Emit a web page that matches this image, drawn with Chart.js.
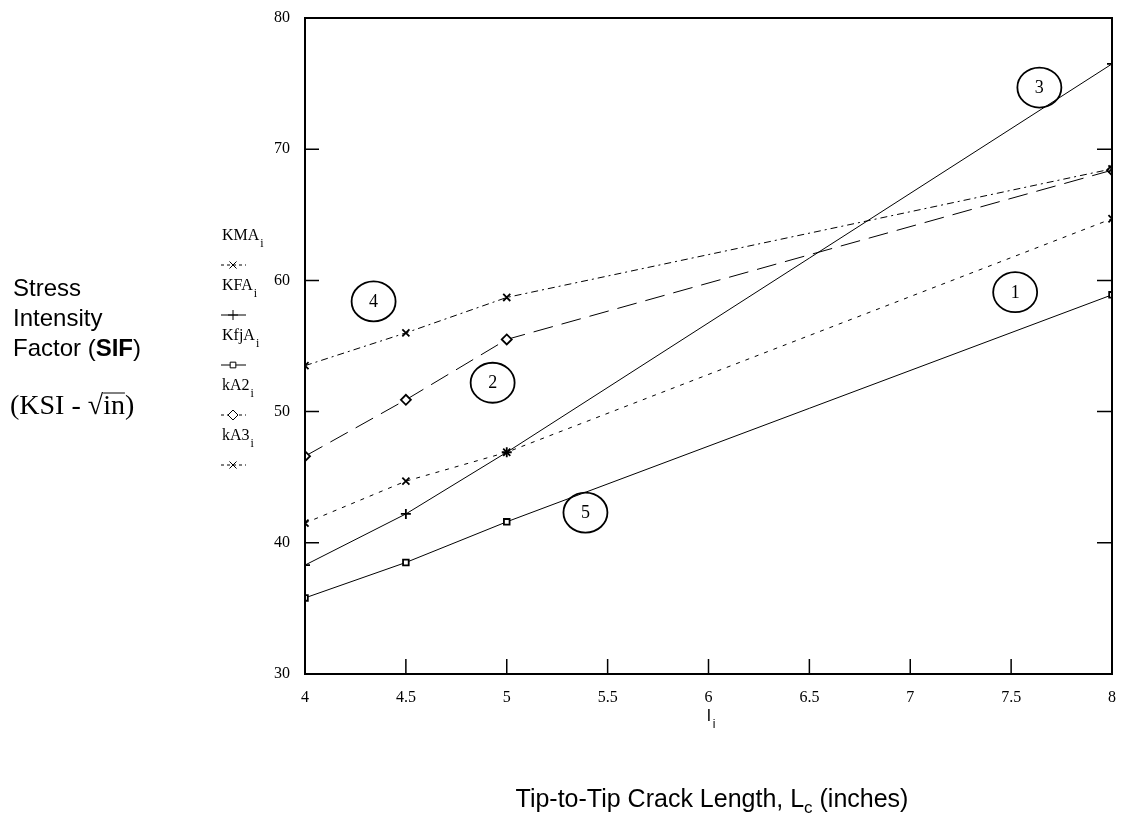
<!DOCTYPE html>
<html>
<head>
<meta charset="utf-8">
<script src="https://cdn.jsdelivr.net/npm/chart.js@4/dist/chart.umd.min.js"></script>
<style>
  html, body { margin: 0; padding: 0; background: #fff; }
  #wrap { width: 1122px; height: 821px; position: relative; }
</style>
</head>
<body>
<div id="wrap"><canvas id="sifChart" width="1122" height="821"></canvas></div>
<script>
// crack lengths l_i (inches)
const lengths = [4, 4.5, 5, 8];

// stress intensity factors (KSI-sqrt(in))
const KMA = [53.5, 56.0, 58.7, 68.5];
const KFA = [38.3, 42.2, 46.9, 76.5];
const KfjA = [35.8, 38.5, 41.6, 58.9];
const kA2 = [46.6, 50.9, 55.5, 68.4];
const kA3 = [41.5, 44.7, 46.9, 64.7];

const xTicks = [4, 4.5, 5, 5.5, 6, 6.5, 7, 7.5, 8];
const yTicks = [30, 40, 50, 60, 70, 80];

// circled curve numbers, in data units
const curveTags = ['1', '2', '3', '4', '5'];
const curveTagX = [7.52, 4.93, 7.64, 4.34, 5.39];
const curveTagY = [59.1, 52.2, 74.7, 58.4, 42.3];

function pts(ys) {
    return lengths.map((x, i) => ({ x: x, y: ys[i] }));
}

const series = [
    { label: 'KMA', data: KMA, dash: [7, 4, 2, 4], style: 'crossRot', r: 5 },
    { label: 'KFA', data: KFA, dash: [], style: 'cross', r: 5 },
    { label: 'KfjA', data: KfjA, dash: [], style: 'rect', r: 4 },
    { label: 'kA2', data: kA2, dash: [20, 9], style: 'rectRot', r: 5 },
    { label: 'kA3', data: kA3, dash: [4, 6], style: 'crossRot', r: 5 }
];

// frame, inward ticks, labels, legend and circled numbers
const decorations = {
    id: 'decorations',
    afterDraw(chart) {
        const ctx = chart.ctx;
        const a = chart.chartArea;
        const xs = chart.scales.x, ys = chart.scales.y;
        ctx.save();
        ctx.strokeStyle = '#000';
        ctx.fillStyle = '#000';

        // frame
        ctx.lineWidth = 2;
        ctx.setLineDash([]);
        ctx.strokeRect(a.left, a.top, a.right - a.left, a.bottom - a.top);

        // inward ticks
        ctx.lineWidth = 1.5;
        ctx.beginPath();
        yTicks.forEach(v => {
            if (v === 30 || v === 80) return;
            const py = ys.getPixelForValue(v);
            ctx.moveTo(a.left, py); ctx.lineTo(a.left + 14, py);
            ctx.moveTo(a.right, py); ctx.lineTo(a.right - 15, py);
        });
        xTicks.forEach(v => {
            if (v === 4 || v === 8) return;
            const px = xs.getPixelForValue(v);
            ctx.moveTo(px, a.bottom); ctx.lineTo(px, a.bottom - 15);
        });
        ctx.stroke();

        // circled curve numbers
        ctx.lineWidth = 1.8;
        ctx.font = '18px "Liberation Serif"';
        ctx.textAlign = 'center';
        ctx.textBaseline = 'middle';
        curveTags.forEach((t, i) => {
            const px = xs.getPixelForValue(curveTagX[i]);
            const py = ys.getPixelForValue(curveTagY[i]);
            ctx.beginPath();
            ctx.ellipse(px, py, 22, 20, 0, 0, Math.PI * 2);
            ctx.stroke();
            ctx.fillText(t, px, py + 1);
        });

        // y axis title
        ctx.textAlign = 'left';
        ctx.textBaseline = 'alphabetic';
        ctx.font = '24px "Liberation Sans"';
        ctx.fillText('Stress', 13, 296);
        ctx.fillText('Intensity', 13, 326);
        ctx.fillText('Factor (', 13, 356);
        let w = ctx.measureText('Factor (').width;
        ctx.font = 'bold 24px "Liberation Sans"';
        ctx.fillText('SIF', 13 + w, 356);
        w += ctx.measureText('SIF').width;
        ctx.font = '24px "Liberation Sans"';
        ctx.fillText(')', 13 + w, 356);

        // units
        ctx.font = '28px "Liberation Serif"';
        let ux = 10;
        ctx.fillText('(KSI - ', ux, 414);
        ux += ctx.measureText('(KSI - ').width;
        ctx.fillText('\u221A', ux, 414);
        ux += ctx.measureText('\u221A').width;
        const inW = ctx.measureText('in').width;
        ctx.lineWidth = 1;
        ctx.beginPath();
        ctx.moveTo(ux, 393); ctx.lineTo(ux + inW, 393);
        ctx.stroke();
        ctx.fillText('in)', ux, 414);

        // stacked legend
        series.forEach((s, i) => {
            const ly = 240 + i * 50;
            ctx.fillStyle = '#000';
            ctx.font = '16px "Liberation Serif"';
            ctx.fillText(s.label, 222, ly);
            const lw = ctx.measureText(s.label).width;
            ctx.font = '12px "Liberation Serif"';
            ctx.fillText('i', 222 + lw + 1, ly + 7);
            const my = ly + 25;
            ctx.lineWidth = 1;
            ctx.setLineDash(s.dash.length ? [3, 3] : []);
            ctx.beginPath();
            ctx.moveTo(221, my); ctx.lineTo(246, my);
            ctx.stroke();
            ctx.setLineDash([]);
            ctx.fillStyle = '#fff';
            Chart.helpers.drawPoint(ctx, {
                pointStyle: s.style, radius: s.r, borderWidth: 1.8, rotation: 0
            }, 233, my);
        });
        ctx.fillStyle = '#000';

        // x axis titles
        ctx.textAlign = 'center';
        ctx.font = '17px "Liberation Sans"';
        ctx.fillText('l', 709, 721);
        ctx.font = '12px "Liberation Sans"';
        ctx.fillText('i', 714, 728);

        ctx.textAlign = 'left';
        const t1 = 'Tip-to-Tip Crack Length, L';
        const t2 = ' (inches)';
        ctx.font = '17px "Liberation Sans"';
        const cw = ctx.measureText('c').width;
        ctx.font = '25px "Liberation Sans"';
        const total = ctx.measureText(t1).width + cw + ctx.measureText(t2).width;
        let tx = 712 - total / 2;
        ctx.fillText(t1, tx, 807);
        tx += ctx.measureText(t1).width;
        ctx.font = '17px "Liberation Sans"';
        ctx.fillText('c', tx, 813);
        tx += cw;
        ctx.font = '25px "Liberation Sans"';
        ctx.fillText(t2, tx, 807);

        ctx.restore();
    }
};

document.addEventListener('DOMContentLoaded', function() {
    const ctx = document.getElementById('sifChart').getContext('2d');
    new Chart(ctx, {
        type: 'line',
        data: {
            datasets: series.map(s => ({
                label: s.label,
                data: pts(s.data),
                borderColor: '#000',
                backgroundColor: 'rgba(0,0,0,0)',
                borderWidth: 1,
                borderDash: s.dash,
                pointStyle: s.style,
                pointRadius: s.r,
                pointBorderWidth: 1.8,
                pointBorderColor: '#000',
                pointBackgroundColor: '#fff',
                tension: 0,
                fill: false,
                clip: 0
            }))
        },
        options: {
            responsive: false,
            animation: false,
            layout: { padding: { top: 18, right: 2, left: 0, bottom: 0 } },
            plugins: {
                legend: { display: false },
                tooltip: { enabled: false }
            },
            scales: {
                x: {
                    type: 'linear',
                    min: 4,
                    max: 8,
                    afterFit: s => { s.height = 147; },
                    afterBuildTicks: s => { s.ticks = xTicks.map(v => ({ value: v })); },
                    grid: { display: false },
                    border: { display: false },
                    ticks: {
                        padding: 6,
                        color: '#000',
                        font: { family: 'Liberation Serif', size: 16 },
                        callback: v => String(v)
                    }
                },
                y: {
                    min: 30,
                    max: 80,
                    afterFit: s => { s.width = 305; },
                    afterBuildTicks: s => { s.ticks = yTicks.map(v => ({ value: v })); },
                    grid: { display: false },
                    border: { display: false },
                    ticks: {
                        padding: 7,
                        color: '#000',
                        font: { family: 'Liberation Serif', size: 16 }
                    }
                }
            }
        },
        plugins: [decorations]
    });
});
</script>
</body>
</html>
